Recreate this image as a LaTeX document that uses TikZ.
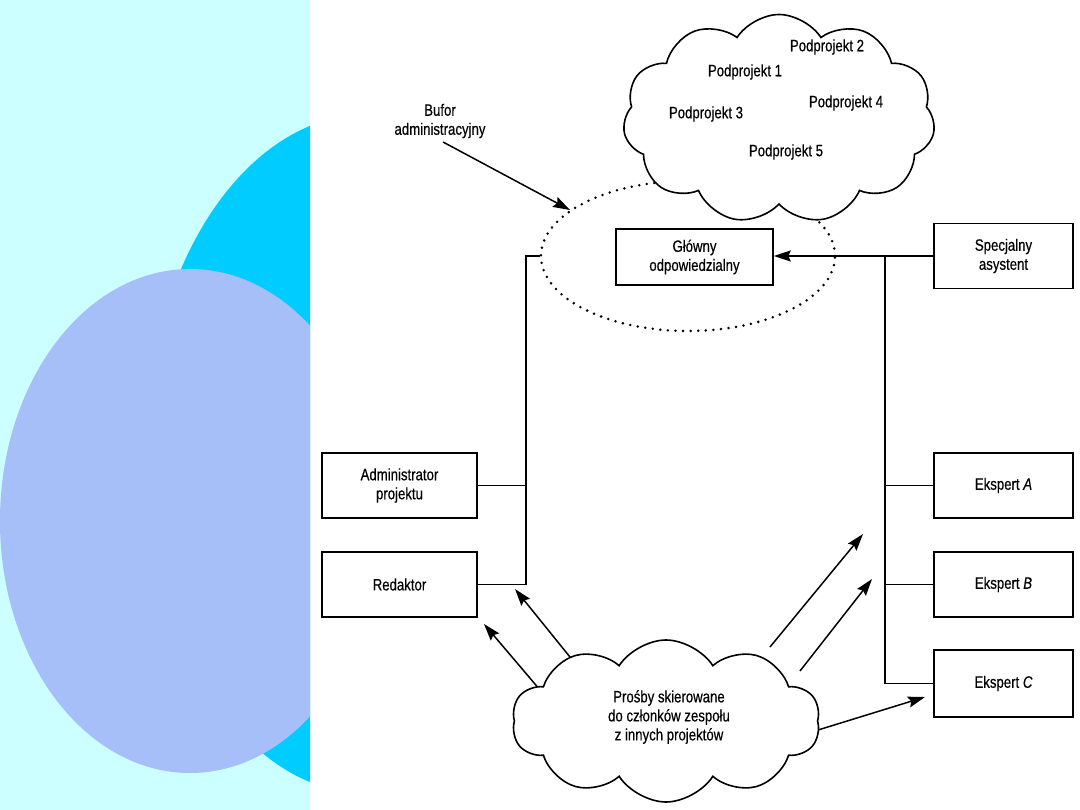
\documentclass[tikz,border=0pt]{standalone}
\usepackage{fontspec}
\setmainfont{Liberation Sans}[FakeStretch=0.8,FakeBold=0.4]
\usetikzlibrary{shapes.symbols,shapes.geometric,arrows.meta}
\definecolor{panelbg}{HTML}{CCFFFF}
\definecolor{bigcyan}{HTML}{00CCFF}
\definecolor{lav}{HTML}{A6BFF9}
\newcommand\lbl{\fontsize{16.5}{19}\selectfont}
\tikzset{
  box/.style={draw, line width=1.6pt, minimum width=155pt, minimum height=65pt, align=center, inner sep=0pt, font=\lbl},
  conn/.style={line width=1.5pt},
  arr/.style={line width=1.5pt, -{Stealth[length=17pt,width=11pt,inset=2.5pt]}},
  txt/.style={font=\lbl, align=center, inner sep=0pt},
  puffy/.style={cloud, draw, fill=white, line width=1.6pt, cloud ignores aspect, inner sep=0pt},
  dotring/.style={ellipse, draw, line width=2.8pt, dash pattern=on 0pt off 7.6pt, line cap=round, inner sep=0pt}
}
\begin{document}
\begin{tikzpicture}[x=1pt,y=-1pt]
\useasboundingbox (0,0) rectangle (1080,810);
\fill[white] (0,0) rectangle (1080,810);
% left decorative panel
\fill[panelbg] (0,0) rectangle (310,810);
\begin{scope}
  \clip (0,0) rectangle (310,810);
  \fill[bigcyan] (369,454) ellipse [x radius=224pt, y radius=340pt];
  \fill[lav] (190,521) ellipse [x radius=190pt, y radius=252pt];
\end{scope}

% dotted buffer ellipse
\node[dotring, minimum width=294pt, minimum height=150pt] (buf) at (688,256) {};

% top cloud
\node[puffy, cloud puffs=11, cloud puff arc=115, minimum width=312pt, minimum height=209pt] (top) at (779,119) {};
\node[txt] (p1) at (745,72) {Podprojekt 1};
\node[txt] (p2) at (827,47) {Podprojekt 2};
\node[txt] (p3) at (706,114) {Podprojekt 3};
\node[txt] (p4) at (846,103) {Podprojekt 4};
\node[txt] (p5) at (786,152) {Podprojekt 5};

% buffer label
\node[txt] (bufor) at (440,121) {Bufor\\administracyjny};
\coordinate (bs) at (443,142);
\coordinate (bt) at (570,210);
\draw[arr] (bs) -- (bt);

% boxes
\node[box, minimum width=157pt, minimum height=56pt] (glowny) at (694.5,257) {Główny\\odpowiedzialny};
\node[box, minimum width=139pt] (spec) at (1003.5,256) {Specjalny\\asystent};
\node[box] (admin) at (399.5,485.5) {Administrator\\projektu};
\node[box] (red) at (399.5,584.5) {Redaktor};
\node[box, minimum width=139pt] (ekA) at (1003.5,485.5) {Ekspert \textit{A}};
\node[box, minimum width=139pt] (ekB) at (1003.5,584.5) {Ekspert \textit{B}};
\node[box, minimum width=139pt, minimum height=67pt] (ekC) at (1003.5,683.5) {Ekspert \textit{C}};

% left connectors
\coordinate (jl) at (526,256);
\draw[conn] (buf.west) -- (jl) |- (red.east);
\draw[conn] (admin.east) -- (admin.east -| jl);

% right connectors
\coordinate (jr) at (885,256);
\draw[arr] (spec.west) -- (spec.west -| glowny.east);
\draw[conn] (spec.west -| jr) |- (ekC.west);
\draw[conn] (jr |- ekA.west) -- (ekA.west);
\draw[conn] (jr |- ekB.west) -- (ekB.west);

% request arrows
\coordinate (s1) at (546,697); \coordinate (t1) at (484,624);
\coordinate (s2) at (574,662); \coordinate (t2) at (515,589);
\coordinate (s3) at (770,647); \coordinate (t3) at (863,534);
\coordinate (s4) at (800,671); \coordinate (t4) at (872,579);
\coordinate (s5) at (818,730); \coordinate (t5) at (925,697);
\draw[arr] (s1) -- (t1);
\draw[arr] (s2) -- (t2);
\draw[arr] (s3) -- (t3);
\draw[arr] (s4) -- (t4);
\draw[arr] (s5) -- (t5);

% bottom cloud
\node[puffy, cloud puffs=10, cloud puff arc=115, minimum width=308pt, minimum height=162pt] (req) at (666,721) {};
\node[txt] (reqtxt) at (669,717) {Prośby skierowane\\do członków zespołu\\z innych projektów};
\end{tikzpicture}
\end{document}
